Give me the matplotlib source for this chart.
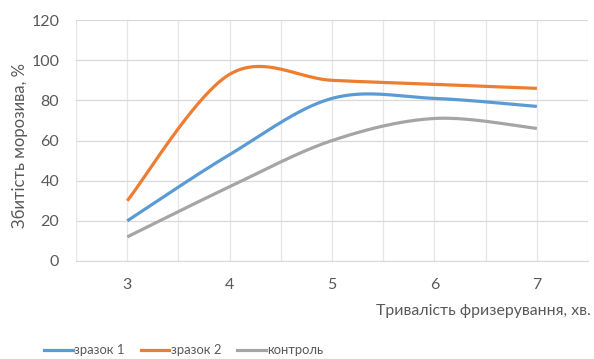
import numpy as np
import matplotlib
matplotlib.use("Agg")
import matplotlib.pyplot as plt
from matplotlib.lines import Line2D

plt.rcParams["font.family"] = ["Lato", "DejaVu Sans"]

# Тривалість фризерування, хв.
minutes = [3, 4, 5, 6, 7]
sample_1 = [20, 53, 81, 81, 77]
sample_2 = [30, 93, 90, 88, 86]
control = [12, 37, 60, 71, 66]

series_names = ["зразок 1", "зразок 2", "контроль"]
series_colors = ["#5B9BD5", "#ED7D31", "#A5A5A5"]
y_ticks = [0, 20, 40, 60, 80, 100, 120]


def smooth(xs, ys, n=40):
    # згладжування як в Excel: кубічні Безьє з контрольними точками (P2-P0)/6
    pts = np.column_stack([xs, ys]).astype(float)
    ext = np.vstack([pts[0], pts, pts[-1]])
    out = []
    t = np.linspace(0, 1, n)[:, None]
    for i in range(len(pts) - 1):
        p0, p1, p2, p3 = ext[i], ext[i + 1], ext[i + 2], ext[i + 3]
        c1 = p1 + (p2 - p0) / 6
        c2 = p2 - (p3 - p1) / 6
        seg = ((1 - t) ** 3) * p1 + 3 * ((1 - t) ** 2) * t * c1 + 3 * (1 - t) * t ** 2 * c2 + t ** 3 * p2
        out.append(seg if i == 0 else seg[1:])
    seg = np.vstack(out)
    return seg[:, 0], seg[:, 1]


fig = plt.figure(figsize=(5.94, 3.59), dpi=100)
ax = fig.add_axes([0.128, 0.273, 0.862, 0.671])

for ys, name, col in zip([sample_1, sample_2, control], series_names, series_colors):
    sx, sy = smooth(minutes, ys)
    ax.plot(sx, sy, color=col, lw=2.3, solid_capstyle="butt", label=name, zorder=3)

ax.set_xlim(minutes[0] - 0.5, minutes[-1] + 0.5)
ax.set_ylim(0, 120)
ax.set_yticks(y_ticks)
ax.set_xticks(minutes)
ax.set_xticks(np.arange(minutes[0] - 0.5, minutes[-1] + 0.51, 0.5), minor=True)
ax.grid(True, which="both", axis="x", color="#E6E6E6", lw=0.9)
ax.grid(True, which="major", axis="y", color="#D9D9D9", lw=0.9)
ax.set_axisbelow(True)
for s in ["top", "right", "left"]:
    ax.spines[s].set_visible(False)
ax.spines["bottom"].set_color("#D9D9D9")
ax.tick_params(which="both", length=0, labelsize=11.5, labelcolor="#595959")
ax.tick_params(axis="x", pad=12)
ax.tick_params(axis="y", pad=12)

fig.text(0.033, 0.595, "Збитість морозива, %", rotation=90, ha="center", va="center",
         fontsize=12, color="#595959")
fig.text(0.995, 0.133, "Тривалість фризерування, хв.", ha="right", va="center",
         fontsize=11.4, color="#595959")

handles = [Line2D([], [], color=c, lw=2.3) for c in series_colors]
fig.legend(handles, series_names, loc="center left", bbox_to_anchor=(0.066, 0.024),
           ncol=3, frameon=False, fontsize=9.4, labelcolor="#595959",
           handlelength=2.2, handletextpad=0.1, columnspacing=1.2, borderaxespad=0)

fig.savefig("out.png", dpi=100)
